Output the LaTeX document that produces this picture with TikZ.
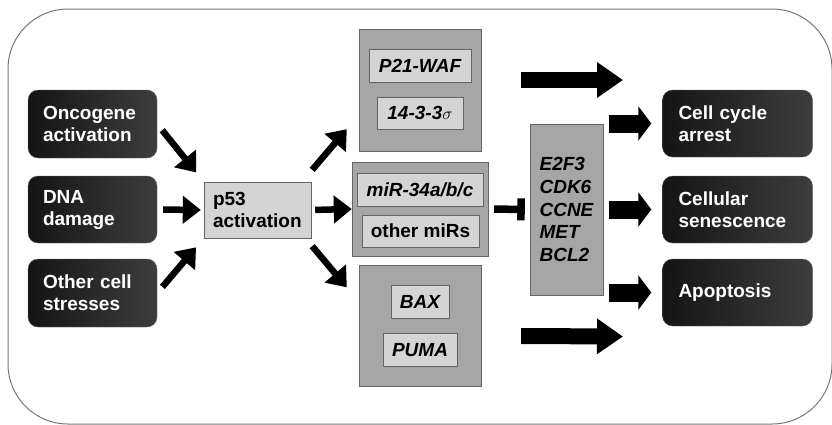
\documentclass[tikz,border=0pt]{standalone}
\usepackage{fontspec}
\setmainfont{Liberation Sans}
\usetikzlibrary{arrows.meta}

\definecolor{boxgray}{RGB}{166,166,166}
\definecolor{palegray}{RGB}{212,212,212}
\definecolor{edgegray}{RGB}{100,100,100}
\definecolor{framegray}{RGB}{120,120,120}

\tikzset{
  txt/.style={font=\bfseries\fontsize{19}{22}\selectfont},
  itxt/.style={font=\bfseries\itshape\fontsize{19}{22}\selectfont},
  cause/.style={txt, draw=edgegray, rounded corners=10pt, left color=black!92, right color=black!76,
    text=white, align=left, inner xsep=15pt, text width=99pt},
  fate/.style={cause, inner xsep=16pt, text width=118pt, minimum height=67pt},
  group/.style={draw=edgegray, fill=boxgray},
  genebox/.style={draw=edgegray, fill=palegray, inner sep=0pt},
  thinarr/.style={line width=6.5pt, -{Triangle[width=27pt,length=18pt]}},
  blockarr/.style={line width=16pt, -{Triangle[width=34pt,length=26pt]}},
  fatearr/.style={line width=18pt, -{Triangle[width=34pt,length=13pt]}}
}

\begin{document}
\begin{tikzpicture}[x=1pt,y=-1pt]
\useasboundingbox (0,0) rectangle (832,424);
\draw[framegray, line width=1pt, rounded corners=60pt] (8,9) rectangle (832,424);

% stresses
\node[cause, minimum height=68pt] (onc) at (92.5,124) {Oncogene\\activation};
\node[cause, minimum height=67pt] (dna) at (92.5,209.5) {DNA\\damage};
\node[cause, minimum height=68pt] (oth) at (92.5,293) {Other cell\\stresses};

\node[txt, draw=edgegray, fill=palegray, align=left, text width=89pt, inner xsep=9pt,
  minimum height=56pt] (p53) at (257.5,210) {p53\\activation};

% targets
\node[group, minimum width=122pt, minimum height=122pt] (top) at (420,90) {};
\node[genebox, itxt, minimum width=102pt, minimum height=33pt] (p21) at (420,65.5) {P21-WAF};
\node[genebox, itxt, minimum width=86pt, minimum height=32pt] (sig) at (420,113) {14-3-3$\sigma$};

\node[group, minimum width=136pt, minimum height=94pt] (mid) at (420,209) {};
\node[genebox, itxt, minimum width=126pt, minimum height=33pt] (mir) at (420,190) {miR-34a/b/c};
\node[genebox, txt, minimum width=117pt, minimum height=32pt] (omir) at (420.5,231) {other miRs};

\node[group, minimum width=122pt, minimum height=121pt] (bot) at (420,326) {};
\node[genebox, itxt, minimum width=58pt, minimum height=33pt] (bax) at (420,301.5) {BAX};
\node[genebox, itxt, minimum width=74pt, minimum height=33pt] (puma) at (420,350) {PUMA};

\node[group, minimum width=73pt, minimum height=171pt, align=left, inner sep=0pt,
  font=\bfseries\itshape\fontsize{19}{22.6}\selectfont] (genes) at (566.5,209.5)
  {E2F3\\CDK6\\CCNE\\MET\\BCL2};

% outcomes
\node[fate] (cca) at (737.5,123.5) {Cell cycle\\arrest};
\node[fate] (sen) at (737.5,209.5) {Cellular\\senescence};
\node[fate] (apo) at (737.5,292.5) {Apoptosis};

\coordinate (ta) at (623,80);
\coordinate (ba) at (623,336.5);

\draw[thinarr, shorten <=8pt, shorten >=12pt] (onc.east) -- (p53.north west);
\draw[thinarr, shorten <=6pt, shorten >=3pt] (dna.east) -- (p53.west);
\draw[thinarr, shorten <=8pt, shorten >=12pt] (oth.east) -- (p53.south west);

\draw[thinarr] ([shift={(1,-12)}]p53.north east) -- ([shift={(-12,-22)}]top.south west);
\draw[thinarr, shorten <=4pt] (p53.east) -- (mid.west);
\draw[thinarr] ([shift={(1,8)}]p53.south east) -- ([shift={(-12,22)}]bot.north west);

\draw[line width=7.5pt, -{Bar[width=22pt]}, shorten <=6pt, shorten >=5pt] (mid.east) -- (genes.west);

\draw[blockarr] ([shift={(40,-10)}]top.east) -- (ta);
\draw[blockarr] ([shift={(40,10)}]bot.east) -- (ba);

\draw[fatearr, shorten <=6pt, shorten >=11pt] (genes.east |- cca.west) -- (cca.west);
\draw[fatearr, shorten <=6pt, shorten >=11pt] (genes.east |- sen.west) -- (sen.west);
\draw[fatearr, shorten <=6pt, shorten >=11pt] (genes.east |- apo.west) -- (apo.west);
\end{tikzpicture}
\end{document}
